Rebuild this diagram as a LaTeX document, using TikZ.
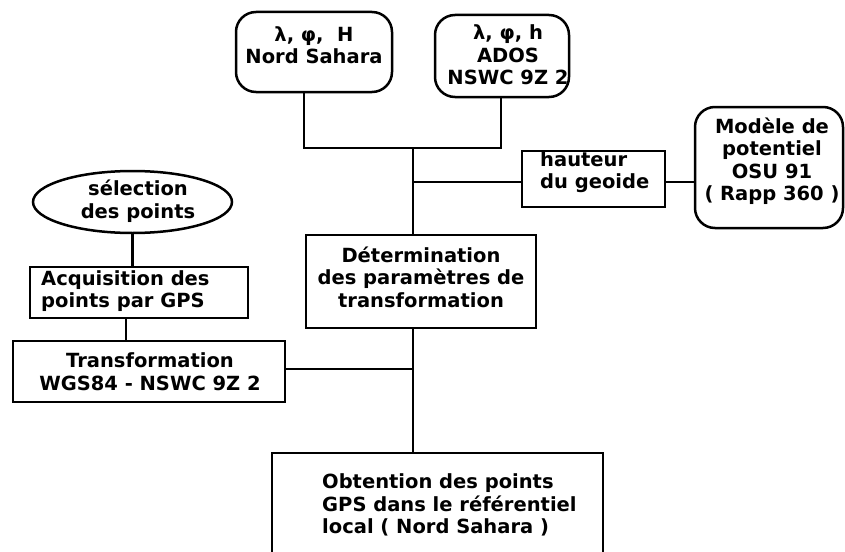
\documentclass[tikz,border=0pt]{standalone}
\usepackage{fontspec}
\setmainfont{DejaVu Sans}
\usetikzlibrary{shapes.geometric,calc}
\begin{document}
\begin{tikzpicture}[x=1pt,y=-1pt,
  box/.style={draw, line width=2.5pt, inner sep=0pt},
  rbox/.style={box, rounded corners=20pt},
  txt/.style={inner sep=0pt, font=\fontsize{19.5}{22.5}\selectfont\bfseries},
  link/.style={line width=2.5pt}]
\clip (0,0) rectangle (845,551);
\fill[white] (0,0) rectangle (845,551);
% boxes
\node[rbox, minimum width=156pt, minimum height=80pt] (ns) at (314,52) {};
\node[rbox, minimum width=134pt, minimum height=82pt] (ados) at (502,56) {};
\node[box, minimum width=143pt, minimum height=56pt] (haut) at (593.5,179) {};
\node[rbox, minimum width=148pt, minimum height=121pt] (mod) at (769,167.5) {};
\node[box, ellipse, minimum width=199pt, minimum height=62pt] (sel) at (132.5,202) {};
\node[box, minimum width=218pt, minimum height=51pt] (acq) at (139,292.5) {};
\node[box, minimum width=272pt, minimum height=61pt] (trans) at (149,371.5) {};
\node[box, minimum width=230pt, minimum height=93pt] (det) at (421,281.5) {};
\node[box, minimum width=331pt, minimum height=127pt] (obt) at (437.5,516.5) {};
% texts
\node[txt, align=center] (nsT) at (314,45) {λ, φ,\ \ H\\Nord Sahara};
\node[txt, align=center] (adosT) at (508,55) {λ, φ, h\\ADOS\\NSWC 9Z 2};
\node[txt, align=left, anchor=west] (hautT) at (540,172) {hauteur\\du geoide};
\node[txt, align=center] (modT) at (772,161) {Modèle de\\potentiel\\OSU 91\\( Rapp 360 )};
\node[txt, align=center] (selT) at (138,201) {sélection\\des points};
\node[txt, align=left, anchor=west] (acqT) at (41,291) {Acquisition des\\points par GPS};
\node[txt, align=center] (transT) at (150,371.5) {Transformation\\WGS84 - NSWC 9Z 2};
\node[txt, align=center] (detT) at (421,277) {Détermination\\des paramètres de\\transformation};
\node[txt, align=left, anchor=west] (obtT) at (322,505) {Obtention des points\\GPS dans le référentiel\\local ( Nord Sahara )};
% junction coordinates
\coordinate (jl) at (304,148);
\coordinate (jr) at (501,148);
\coordinate (j) at (413,148);
\coordinate (jh) at (413,182);
\coordinate (jt) at (413,369);
\coordinate (ca) at (126,0);
% connectors
\draw[link] (ns.south -| jl) -- (jl) -- (jr) -- (ados.south -| jr);
\draw[link] (j) -- (det.north -| j);
\draw[link] (jh) -- (haut.west |- jh);
\draw[link] (haut.east |- jh) -- (mod.west |- jh);
\draw[link] (sel.south) -- (acq.north -| sel.south);
\draw[link] (acq.south -| ca) -- (trans.north -| ca);
\draw[link] (trans.east |- jt) -- (jt);
\draw[link] (det.south -| j) -- (obt.north -| j);
\end{tikzpicture}
\end{document}
